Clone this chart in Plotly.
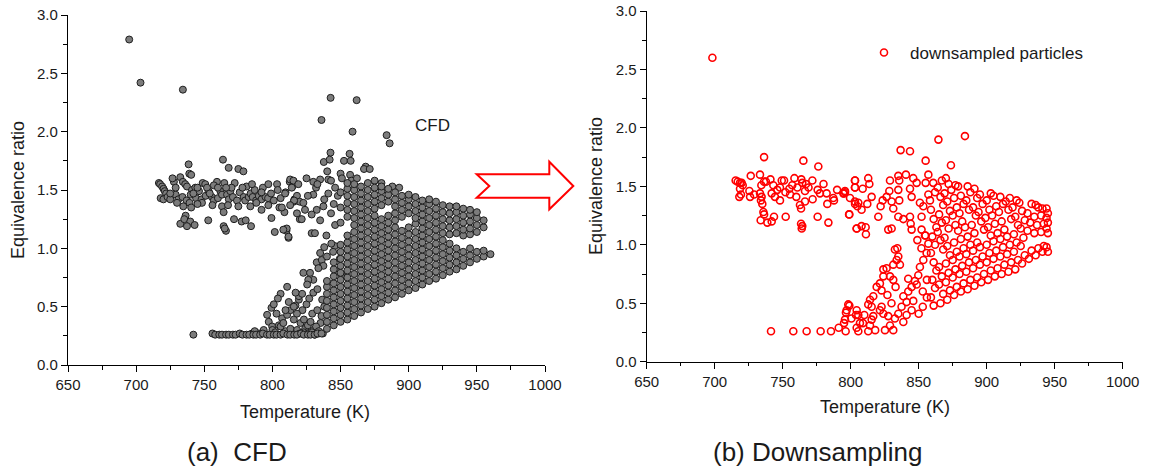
import plotly.graph_objects as go

# ---------------- CFD particles: (temperature K, equivalence ratio) ----------------
cfd_outliers = [(694.9, 2.79), (703.2, 2.42), (734.3, 2.36), (836.0, 2.10), (842.7, 2.29),
                (861.8, 2.27), (858.8, 2.00), (883.8, 1.97), (886.0, 1.90)]

cfd_low_cloud = [
    (716.7, 1.56), (717.6, 1.55), (719.1, 1.53), (720.1, 1.51), (721.0, 1.49), (722.0, 1.47), (718.0, 1.43),
    (720.0, 1.42), (723.0, 1.44), (725.0, 1.42), (727.7, 1.57), (726.7, 1.60), (732.4, 1.61), (729.0, 1.46),
    (731.0, 1.42), (734.3, 1.57), (736.0, 1.55), (737.3, 1.53), (739.0, 1.64), (740.4, 1.63), (738.5, 1.72),
    (741.0, 1.50), (743.4, 1.52), (734.0, 1.44), (737.0, 1.41), (740.0, 1.46), (744.0, 1.43), (746.1, 1.49),
    (748.8, 1.56), (750.7, 1.55), (748.0, 1.42), (751.0, 1.45), (753.2, 1.49), (755.6, 1.44), (757.0, 1.41),
    (759.3, 1.57), (761.8, 1.49), (760.0, 1.43), (763.0, 1.46), (764.7, 1.56), (766.7, 1.46), (763.7, 1.76),
    (767.9, 1.69), (769.1, 1.49), (768.0, 1.42), (772.3, 1.56), (771.0, 1.44), (774.0, 1.41), (775.0, 1.68),
    (776.0, 1.48), (778.7, 1.66), (778.9, 1.44), (780.0, 1.41), (782.6, 1.44), (784.0, 1.47), (785.5, 1.44),
    (788.0, 1.41), (790.0, 1.45), (792.0, 1.42), (794.9, 1.44), (796.8, 1.43), (799.0, 1.47), (801.0, 1.41),
    (803.4, 1.55), (803.9, 1.50), (806.0, 1.43), (809.6, 1.48), (812.7, 1.57), (815.7, 1.57), (814.7, 1.53),
    (816.2, 1.42), (818.0, 1.45), (820.0, 1.40), (732.4, 1.21), (736.3, 1.28), (735.3, 1.25), (739.7, 1.23),
    (742.9, 1.20), (737.3, 1.19), (752.9, 1.24), (764.2, 1.19), (765.9, 1.15), (765.0, 1.17), (771.8, 1.25),
    (777.4, 1.23), (780.4, 1.24), (784.3, 1.19), (799.3, 1.26), (801.7, 1.14), (808.8, 1.16), (810.3, 1.15),
    (811.8, 1.09), (734.6, 1.36), (739.2, 1.39), (740.4, 1.35), (748.3, 1.39), (763.0, 1.36), (764.2, 1.31),
    (767.4, 1.37), (783.8, 1.36), (788.2, 1.39), (805.1, 1.35), (808.8, 1.31), (815.7, 1.40), (820.1, 1.25),
    (745.0, 1.52), (752.0, 1.52), (757.0, 1.54), (770.0, 1.52), (781.0, 1.53), (787.0, 1.50), (793.0, 1.52),
    (797.0, 1.55), (745.0, 1.38), (756.0, 1.37), (775.0, 1.36), (792.0, 1.33), (797.0, 1.37), (725.0, 1.47),
    (729.0, 1.52), (730.0, 1.39), (742.0, 1.47), (754.0, 1.47), (760.0, 1.52), (766.0, 1.52), (778.0, 1.52),
    (785.0, 1.55), (792.0, 1.48)]

cfd_side_scatter = [
    (813.0, 1.59), (815.4, 1.58), (814.2, 1.52), (809.3, 1.47), (815.9, 1.41), (813.0, 1.37), (806.9, 1.35),
    (822.7, 1.39), (830.0, 1.46), (823.9, 1.33), (832.5, 1.33), (837.4, 1.36), (828.8, 1.29), (821.5, 1.25),
    (835.0, 1.24), (810.5, 1.17), (808.0, 1.16), (811.8, 1.10), (828.8, 1.13), (831.2, 1.13), (839.6, 1.11),
    (845.7, 1.02), (843.2, 1.04), (835.0, 0.96), (844.5, 0.97), (832.5, 0.88), (836.2, 0.90), (837.4, 0.85),
    (833.7, 0.83), (849.4, 0.91), (822.7, 0.79), (827.6, 0.79), (830.0, 0.73), (826.3, 0.73), (847.6, 0.80),
    (851.2, 0.76), (842.6, 1.82), (837.7, 1.74), (842.0, 1.76), (852.5, 1.75), (857.4, 1.75), (856.6, 1.81),
    (850.0, 1.64), (851.0, 1.60), (857.0, 1.63), (858.0, 1.58), (868.4, 1.70), (867.2, 1.68), (871.4, 1.68),
    (840.2, 1.66), (841.0, 1.59), (843.0, 1.58), (830.0, 1.57), (835.0, 1.59), (832.0, 1.52), (833.0, 1.55),
    (875.0, 1.58), (880.0, 1.56), (888.0, 1.53), (893.0, 1.52), (862.0, 1.60), (846.0, 1.52), (848.0, 1.45),
    (845.0, 1.38), (843.0, 1.30), (846.0, 1.20), (841.0, 1.47), (825.0, 1.60), (819.0, 1.55), (838.0, 1.42),
    (826.0, 1.45), (818.0, 1.30), (840.0, 0.93), (838.0, 1.01)]

cfd_base_T = [742, 756, 758, 761, 763, 766, 768, 771, 773, 776, 778, 781, 783, 786, 788, 791, 793,
              796, 798, 801, 803, 806, 808, 811, 813, 816, 818, 821, 823, 826, 828, 831, 833, 836]
cfd_base_phi = [0.26, 0.27, 0.26, 0.26, 0.26, 0.26, 0.26, 0.26, 0.26, 0.27, 0.26, 0.26, 0.26, 0.26, 0.26, 0.26, 0.27,
                0.26, 0.26, 0.26, 0.26, 0.26, 0.27, 0.26, 0.26, 0.26, 0.26, 0.27, 0.26, 0.26, 0.26, 0.26, 0.27, 0.27]

cfd_strands = [
    (793.6, 0.30), (796.1, 0.43), (797.3, 0.37), (799.3, 0.49), (799.8, 0.33), (803.0, 0.44), (804.7, 0.34),
    (807.1, 0.40), (809.6, 0.29), (810.8, 0.43), (813.2, 0.31), (813.2, 0.47), (815.7, 0.39), (816.9, 0.51),
    (818.1, 0.30), (819.4, 0.56), (820.6, 0.36), (812.0, 0.54), (809.6, 0.47), (815.7, 0.50), (819.4, 0.59),
    (821.8, 0.61), (810.8, 0.67), (825.5, 0.69), (829.2, 0.44), (832.9, 0.47), (823.1, 0.39), (836.5, 0.56),
    (835.3, 0.36), (824.0, 0.31), (826.0, 0.34), (828.0, 0.37), (830.0, 0.30), (832.0, 0.33), (834.0, 0.29),
    (836.0, 0.42), (838.0, 0.50), (822.0, 0.47), (825.0, 0.52), (827.0, 0.57), (830.0, 0.62), (833.0, 0.65),
    (817.0, 0.62), (806.0, 0.61), (804.0, 0.57), (801.0, 0.52), (790.0, 0.27), (785.0, 0.27), (787.0, 0.29),
    (800.0, 0.30), (802.0, 0.28), (806.0, 0.33), (808.0, 0.36), (818.0, 0.44), (820.0, 0.27), (823.0, 0.28),
    (826.0, 0.27), (829.0, 0.28), (831.0, 0.26), (834.0, 0.27), (837.0, 0.27)]

# dense CFD fan, one column of equivalence ratios per temperature
cfd_fan = {
    840: [0.31, 0.37, 0.43, 0.49, 0.55, 0.61, 0.67, 0.72],
    845: [0.34, 0.40, 0.46, 0.52, 0.58, 0.64, 0.70, 0.76, 0.82, 0.88],
    850: [0.37, 0.43, 0.49, 0.55, 0.61, 0.67, 0.73, 0.79, 0.85, 0.91, 0.97, 1.03, 1.22, 1.35, 1.48],
    855: [0.39, 0.45, 0.51, 0.57, 0.63, 0.69, 0.75, 0.81, 0.87, 0.93, 0.99, 1.05, 1.11, 1.27, 1.33, 1.39,
          1.45, 1.51, 1.56],
    860: [0.42, 0.48, 0.54, 0.60, 0.66, 0.72, 0.78, 0.84, 0.90, 0.96, 1.02, 1.08, 1.14, 1.20, 1.26, 1.32,
          1.38, 1.44, 1.50, 1.55],
    865: [0.45, 0.51, 0.57, 0.63, 0.69, 0.75, 0.81, 0.87, 0.93, 0.99, 1.05, 1.11, 1.17, 1.23, 1.29, 1.35,
          1.41, 1.47, 1.53],
    870: [0.48, 0.54, 0.60, 0.66, 0.72, 0.78, 0.84, 0.90, 0.96, 1.02, 1.08, 1.14, 1.20, 1.26, 1.32, 1.38,
          1.44, 1.50, 1.56],
    875: [0.50, 0.56, 0.62, 0.68, 0.74, 0.80, 0.86, 0.92, 0.98, 1.04, 1.10, 1.16, 1.22, 1.28, 1.34, 1.40,
          1.46, 1.52],
    880: [0.53, 0.59, 0.65, 0.71, 0.77, 0.83, 0.89, 0.95, 1.01, 1.07, 1.13, 1.19, 1.25, 1.37, 1.43, 1.49, 1.53],
    885: [0.56, 0.62, 0.68, 0.74, 0.80, 0.86, 0.92, 0.98, 1.04, 1.10, 1.16, 1.22, 1.28, 1.40, 1.46, 1.51],
    890: [0.58, 0.64, 0.70, 0.76, 0.82, 0.88, 0.94, 1.00, 1.06, 1.12, 1.18, 1.24, 1.30, 1.36, 1.42, 1.48],
    895: [0.61, 0.67, 0.73, 0.79, 0.85, 0.91, 0.97, 1.03, 1.09, 1.15, 1.27, 1.33, 1.39, 1.45],
    900: [0.64, 0.70, 0.76, 0.82, 0.88, 0.94, 1.00, 1.06, 1.12, 1.18, 1.30, 1.36, 1.42, 1.46],
    905: [0.66, 0.72, 0.78, 0.84, 0.90, 0.96, 1.02, 1.08, 1.14, 1.21, 1.26, 1.32, 1.38, 1.44],
    910: [0.69, 0.75, 0.81, 0.87, 0.93, 0.99, 1.05, 1.11, 1.17, 1.23, 1.29, 1.35, 1.41],
    915: [0.72, 0.78, 0.84, 0.90, 0.96, 1.02, 1.08, 1.14, 1.20, 1.26, 1.32, 1.38, 1.42],
    920: [0.74, 0.80, 0.86, 0.92, 0.98, 1.04, 1.10, 1.16, 1.22, 1.28, 1.34, 1.40],
    925: [0.77, 0.83, 0.89, 0.95, 1.01, 1.07, 1.13, 1.19, 1.25, 1.31, 1.37],
    930: [0.80, 0.86, 0.92, 0.98, 1.04, 1.12, 1.18, 1.24, 1.30, 1.36],
    935: [0.82, 0.88, 0.94, 1.00, 1.13, 1.19, 1.25, 1.31, 1.36],
    940: [0.85, 0.91, 0.97, 1.11, 1.16, 1.22, 1.28, 1.34],
    945: [0.88, 0.94, 1.00, 1.12, 1.17, 1.23, 1.29, 1.33],
    950: [0.91, 0.97, 1.14, 1.20, 1.26, 1.31],
    955: [0.93, 0.98, 1.18, 1.24],
    960: [0.95],
}

# ---------------- downsampled particles ----------------
ds_outliers = [(698.3, 2.60), (736.3, 1.75), (765.2, 1.72), (776.2, 1.67), (836.7, 1.81), (843.6, 1.80),
               (855.1, 1.72), (873.7, 1.68), (864.5, 1.90), (884.0, 1.93)]

ds_low_cloud = [
    (715.4, 1.55), (716.9, 1.54), (718.6, 1.53), (719.8, 1.53), (720.6, 1.51), (718.6, 1.48), (719.3, 1.43),
    (718.1, 1.41), (725.5, 1.46), (726.5, 1.59), (726.0, 1.41), (733.3, 1.60), (734.3, 1.51), (736.3, 1.54),
    (737.7, 1.54), (733.3, 1.44), (734.5, 1.41), (743.1, 1.51), (741.9, 1.44), (744.3, 1.41), (748.0, 1.49),
    (749.3, 1.55), (751.0, 1.55), (754.9, 1.48), (755.4, 1.43), (758.6, 1.57), (760.8, 1.49), (763.7, 1.56),
    (764.4, 1.53), (767.1, 1.52), (766.4, 1.46), (771.8, 1.55), (775.7, 1.47), (777.4, 1.44), (782.3, 1.44),
    (787.2, 1.40), (794.6, 1.44), (795.8, 1.45), (803.2, 1.55), (803.2, 1.49), (799.5, 1.40), (733.8, 1.21),
    (735.8, 1.28), (736.3, 1.26), (735.0, 1.35), (734.0, 1.38), (738.7, 1.19), (741.9, 1.20), (743.6, 1.24),
    (748.0, 1.38), (752.2, 1.24), (762.7, 1.34), (763.5, 1.31), (763.5, 1.18), (764.4, 1.16), (764.0, 1.14),
    (766.4, 1.37), (775.7, 1.24), (782.8, 1.35), (783.6, 1.19), (787.7, 1.38), (798.8, 1.26), (803.2, 1.35),
    (804.4, 1.14), (804.9, 1.33), (729.0, 1.43), (746.0, 1.47), (757.0, 1.51), (769.0, 1.49), (780.0, 1.52),
    (790.0, 1.47), (760.0, 1.41), (772.0, 1.39), (752.0, 1.45), (741.0, 1.56)]

ds_base = [(741.4, 0.26), (757.8, 0.26), (767.6, 0.26), (777.9, 0.26), (785.5, 0.26), (791.2, 0.29),
           (796.3, 0.26), (805.6, 0.26), (812.9, 0.26), (818.0, 0.27), (825.2, 0.27), (831.3, 0.27)]

ds_left_band = [
    (795.1, 0.33), (795.8, 0.36), (796.5, 0.42), (799.0, 0.48), (804.4, 0.44), (803.9, 0.40), (804.4, 0.29),
    (806.8, 0.33), (797.0, 0.44), (798.2, 0.49), (805.6, 0.40), (812.9, 0.49), (815.4, 0.47), (814.2, 0.53),
    (816.6, 0.56), (819.1, 0.64), (821.5, 0.67), (824.0, 0.73), (824.0, 0.79), (826.4, 0.80), (822.7, 0.61),
    (822.7, 0.47), (821.5, 0.44), (824.0, 0.41), (816.6, 0.39), (815.4, 0.36), (814.2, 0.31), (831.3, 0.83),
    (832.5, 0.96), (834.3, 0.97), (835.0, 0.90), (836.2, 0.83), (833.8, 0.87), (828.9, 0.73), (831.3, 0.70),
    (828.9, 0.31), (827.6, 0.39), (832.5, 0.37), (835.0, 0.41), (838.7, 0.34), (841.1, 0.40), (844.8, 0.44),
    (837.4, 0.47), (841.1, 0.51), (838.7, 0.56), (842.3, 0.60), (844.8, 0.64), (848.5, 0.66), (842.3, 0.71),
    (847.2, 0.69), (849.7, 0.74), (850.9, 0.81), (853.4, 0.87), (855.8, 0.93), (857.1, 1.01), (852.0, 0.97),
    (849.0, 1.04), (855.0, 1.08), (846.0, 0.52), (830.0, 0.50), (827.0, 0.57), (833.0, 0.64), (810.0, 0.40),
    (809.0, 0.33), (800.5, 0.37), (850.0, 0.41), (853.0, 0.47), (856.0, 0.55), (856.0, 0.70), (853.0, 0.60)]

ds_upper_left = [
    (795.0, 1.44), (795.8, 1.46), (803.1, 1.55), (803.1, 1.49), (808.8, 1.48), (812.9, 1.57), (813.7, 1.52),
    (815.4, 1.41), (803.1, 1.37), (805.6, 1.36), (808.0, 1.30), (812.2, 1.35), (799.0, 1.26), (804.4, 1.14),
    (808.0, 1.16), (811.0, 1.15), (811.2, 1.09), (820.3, 1.24), (822.0, 1.33), (823.5, 1.38), (826.4, 1.41),
    (828.4, 1.46), (828.9, 1.55), (831.3, 1.31), (830.1, 1.37), (835.0, 1.59), (835.7, 1.55), (835.7, 1.38),
    (835.0, 1.47), (827.6, 1.13), (830.1, 1.14), (835.0, 1.24), (838.7, 1.22), (843.6, 1.24), (844.1, 1.18),
    (844.8, 1.13), (840.6, 1.60), (846.0, 1.57), (848.5, 1.53), (843.6, 1.48), (844.8, 1.41), (850.9, 1.36),
    (852.1, 1.24), (853.4, 1.33), (855.1, 1.53), (857.1, 1.60), (860.7, 1.53), (857.1, 1.43), (858.3, 1.38),
    (852.1, 1.13), (854.6, 1.08)]

ds_fan = [
    (861, 0.48), (859, 0.55), (862, 0.63), (860, 0.70), (863, 0.78), (861, 0.85), (859, 0.93), (862, 1.00),
    (860, 1.07), (863, 1.15), (861, 1.22), (859, 1.30), (862, 1.45),
    (866, 0.50), (868, 0.58), (865, 0.66), (867, 0.73), (865, 0.81), (868, 0.96), (866, 1.04), (864, 1.11),
    (867, 1.19), (865, 1.26), (868, 1.34), (866, 1.41), (864, 1.49), (867, 1.55),
    (871, 0.53), (873, 0.61), (870, 0.68), (872, 0.76), (870, 0.84), (873, 0.91), (871, 0.99), (869, 1.06),
    (872, 1.14), (870, 1.21), (873, 1.29), (871, 1.37), (869, 1.44), (872, 1.52), (870, 1.57),
    (876, 0.57), (878, 0.64), (875, 0.72), (877, 0.79), (875, 0.87), (878, 0.94), (876, 1.02), (877, 1.17),
    (875, 1.25), (878, 1.32), (876, 1.40), (874, 1.47), (877, 1.51),
    (881, 0.60), (883, 0.67), (880, 0.75), (882, 0.82), (880, 0.90), (883, 0.97), (881, 1.05), (879, 1.12),
    (882, 1.20), (880, 1.27), (883, 1.35), (881, 1.42), (879, 1.50),
    (886, 0.62), (888, 0.70), (885, 0.77), (887, 0.85), (885, 0.92), (888, 1.00), (886, 1.07), (884, 1.15),
    (887, 1.30), (885, 1.38), (888, 1.45), (886, 1.50),
    (891, 0.65), (893, 0.72), (890, 0.80), (892, 0.87), (890, 0.95), (893, 1.02), (891, 1.10), (889, 1.17),
    (892, 1.25), (890, 1.32), (893, 1.40), (891, 1.48),
    (896, 0.68), (898, 0.75), (895, 0.83), (897, 0.90), (895, 0.98), (898, 1.13), (896, 1.20), (894, 1.28),
    (897, 1.35), (895, 1.43),
    (901, 0.70), (903, 0.78), (900, 0.85), (902, 0.93), (900, 1.00), (903, 1.08), (901, 1.15), (899, 1.23),
    (902, 1.30), (900, 1.38), (903, 1.44),
    (906, 0.73), (908, 0.80), (905, 0.88), (907, 0.95), (905, 1.03), (908, 1.10), (906, 1.18), (904, 1.25),
    (907, 1.33), (905, 1.42),
    (911, 0.75), (913, 0.83), (910, 0.90), (912, 0.98), (910, 1.05), (913, 1.13), (911, 1.20), (909, 1.28),
    (912, 1.35), (910, 1.41),
    (916, 0.77), (918, 0.85), (915, 0.92), (917, 1.00), (915, 1.07), (918, 1.22), (916, 1.30), (914, 1.37),
    (917, 1.40),
    (921, 0.79), (923, 0.87), (920, 0.94), (922, 1.02), (920, 1.09), (923, 1.17), (921, 1.24), (919, 1.32),
    (922, 1.38),
    (926, 0.84), (928, 0.91), (925, 0.99), (927, 1.06), (925, 1.14), (928, 1.21), (926, 1.29), (924, 1.36),
    (931, 0.88), (933, 0.95), (930, 1.12), (932, 1.19), (930, 1.27), (933, 1.35),
    (936, 0.91), (938, 0.97), (935, 1.10), (937, 1.17), (935, 1.24), (938, 1.32), (936, 1.34),
    (941, 0.94), (942, 0.99), (940, 1.11), (942, 1.18), (940, 1.25), (941, 1.31),
    (945, 0.94), (944, 0.98), (945, 1.10), (944, 1.14), (945, 1.19), (944, 1.23), (945, 1.27), (944, 1.31)]

# axis ticks
x_ticks = [650, 700, 750, 800, 850, 900, 950, 1000]
y_ticks = [0.0, 0.5, 1.0, 1.5, 2.0, 2.5, 3.0]


def collect(pairs_groups, columns=None, base=None):
    xs, ys = [], []
    for group in pairs_groups:
        for t, p in group:
            xs.append(t)
            ys.append(p)
    if base is not None:
        xs.extend(base[0])
        ys.extend(base[1])
    if columns is not None:
        for t, col in columns.items():
            xs.extend([t] * len(col))
            ys.extend(col)
    return xs, ys


cfd_x, cfd_y = collect([cfd_outliers, cfd_low_cloud, cfd_side_scatter, cfd_strands],
                       columns=cfd_fan, base=(cfd_base_T, cfd_base_phi))
ds_x, ds_y = collect([ds_outliers, ds_low_cloud, ds_base, ds_left_band, ds_upper_left, ds_fan])

W, H = 1149, 472
FONT = "Liberation Sans, Arial, Helvetica, sans-serif"
INK = "#1a1a1a"


def px(x):
    return x / W


def py(y):
    return 1 - y / H


fig = go.Figure()
fig.add_trace(go.Scatter(
    x=cfd_x, y=cfd_y, mode="markers", name="CFD", showlegend=False,
    marker=dict(symbol="circle", size=7, color="#7c7c7c", line=dict(color="#1e1e1e", width=1)),
    xaxis="x", yaxis="y"))
fig.add_trace(go.Scatter(
    x=ds_x, y=ds_y, mode="markers", name="downsampled particles", showlegend=True,
    marker=dict(symbol="circle-open", size=7, color="#ff0000", line=dict(color="#ff0000", width=1.6)),
    xaxis="x2", yaxis="y2"))

axis_common = dict(showline=True, linecolor="#000000", linewidth=1.3, mirror=False, automargin=False,
                   ticks="outside", ticklen=6, tickwidth=1.3, tickcolor="#000000",
                   showgrid=False, zeroline=False,
                   tickfont=dict(family=FONT, size=15, color=INK))
xaxis_common = dict(axis_common, range=[650, 1000], tickmode="array", tickvals=x_ticks,
                    minor=dict(ticks="outside", ticklen=3.5, tickwidth=1.1, tickcolor="#000000", dtick=25,
                               tick0=650, showgrid=False))
yaxis_common = dict(axis_common, range=[0, 3.0], tickmode="array", tickvals=y_ticks, tickformat=".1f",
                    minor=dict(ticks="outside", ticklen=3.5, tickwidth=1.1, tickcolor="#000000", dtick=0.25,
                               tick0=0, showgrid=False))

fig.update_layout(
    width=W, height=H, margin=dict(l=0, r=0, t=0, b=0, autoexpand=False),
    paper_bgcolor="white", plot_bgcolor="white",
    font=dict(family=FONT, color=INK),
    xaxis=dict(xaxis_common, domain=[px(68), px(545)], anchor="y"),
    yaxis=dict(yaxis_common, domain=[py(365), py(15)], anchor="x"),
    xaxis2=dict(xaxis_common, domain=[px(646.7), px(1122.7)], anchor="y2"),
    yaxis2=dict(yaxis_common, domain=[py(361.7), py(11)], anchor="x2"),
    legend=dict(x=px(858), y=py(53), xanchor="left", yanchor="middle", bgcolor="rgba(0,0,0,0)",
                borderwidth=0, font=dict(family=FONT, size=17, color=INK), itemwidth=42),
    showlegend=True,
)

annotations = [
    dict(text="CFD", x=px(432.5), y=py(126), size=17),
    dict(text="Temperature (K)", x=px(305), y=py(412), size=18),
    dict(text="Temperature (K)", x=px(885), y=py(407), size=18),
    dict(text="Equivalence ratio", x=px(18), y=py(190), size=18, angle=-90),
    dict(text="Equivalence ratio", x=px(596), y=py(186), size=18, angle=-90),
    dict(text="(a) \u00a0CFD", x=px(236.5), y=py(452), size=26),
    dict(text="(b) Downsampling", x=px(818), y=py(452), size=26),
]
for a in annotations:
    fig.add_annotation(text=a["text"], x=a["x"], y=a["y"], xref="paper", yref="paper",
                       xanchor="center", yanchor="middle", showarrow=False,
                       textangle=a.get("angle", 0),
                       font=dict(family=FONT, size=a["size"], color=INK))

# hollow arrow between the two panels
arrow_pts = [(476.7, 174.3), (549.3, 174.3), (549.3, 161.7), (573.3, 186.0),
             (549.3, 209.3), (549.3, 197.7), (476.7, 197.7), (489.3, 186.0)]
path = "M " + " L ".join(f"{px(x):.5f},{py(y):.5f}" for x, y in arrow_pts) + " Z"
fig.add_shape(type="path", path=path, xref="paper", yref="paper",
              line=dict(color="#ff0000", width=2), fillcolor="rgba(255,255,255,0)")

fig.write_html("out.html")
